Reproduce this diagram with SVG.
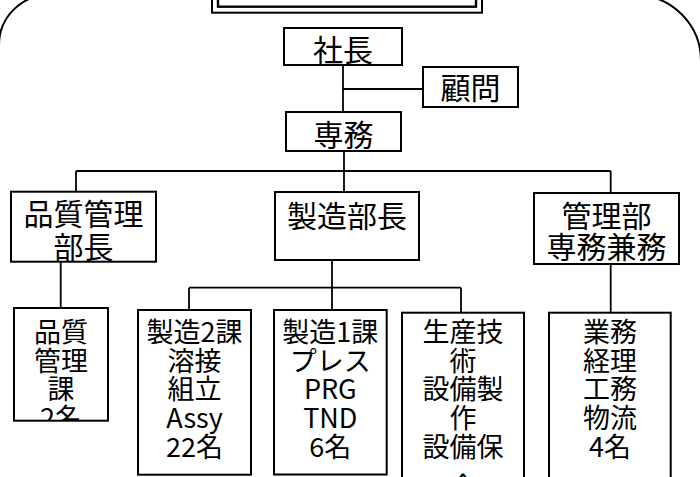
<svg xmlns="http://www.w3.org/2000/svg" width="700" height="477" viewBox="0 0 700 477">
<style>
.box{fill:#fff;stroke:#000;stroke-width:2}
.ln{fill:none;stroke:#000;stroke-width:1.8}
.frame{fill:none;stroke:#000;stroke-width:2}
.t{font-family:"Noto Sans CJK JP","Noto Sans",sans-serif;font-size:30px;fill:#000;text-anchor:middle}
.s{font-family:"Noto Sans CJK JP","Noto Sans",sans-serif;font-size:27px;fill:#000;text-anchor:middle}
</style>
<defs>
<clipPath id="clipQ"><rect x="14" y="308" width="94" height="112.7"/></clipPath>
</defs>
<rect width="700" height="477" fill="#fff"/>
<path class="frame" d="M -1,800 L -1,45 A 50 50 0 0 1 49,-5 L 635,-5 A 66 66 0 0 1 701,61 L 701,800"/>
<g id="title-frame">
<rect x="212" y="-20" width="270" height="32.7" fill="none" stroke="#000" stroke-width="2"/>
<rect x="218" y="-20" width="258" height="26.7" fill="none" stroke="#000" stroke-width="2.4"/>
</g>
<g id="connectors">
<line class="ln" x1="343" y1="65" x2="343" y2="112"/>
<line class="ln" x1="343" y1="89" x2="423" y2="89"/>
<line class="ln" x1="344" y1="151" x2="344" y2="192"/>
<line class="ln" x1="76" y1="171" x2="610.7" y2="171"/>
<line class="ln" x1="76" y1="171" x2="76" y2="191.7"/>
<line class="ln" x1="610.7" y1="171" x2="610.7" y2="193"/>
<line class="ln" x1="60.7" y1="261.7" x2="60.7" y2="308"/>
<line class="ln" x1="332" y1="260" x2="332" y2="310"/>
<line class="ln" x1="189" y1="287.7" x2="461" y2="287.7"/>
<line class="ln" x1="189" y1="287.7" x2="189" y2="310"/>
<line class="ln" x1="461" y1="287.7" x2="461" y2="312.7"/>
<line class="ln" x1="610.7" y1="264" x2="610.7" y2="312.7"/>
</g>
<g id="shacho">
<rect class="box" x="284" y="28" width="118" height="37"/>
<text class="t" x="343" y="61">社長</text>
</g>
<g id="komon">
<rect class="box" x="423" y="67" width="95" height="40"/>
<text class="t" x="470.5" y="99">顧問</text>
</g>
<g id="senmu">
<rect class="box" x="286" y="112" width="115" height="39"/>
<text class="t" x="343.5" y="146">専務</text>
</g>
<g id="hinshitsu-bucho">
<rect class="box" x="11" y="191.7" width="145" height="70"/>
<text class="t" x="83.5" y="224.5">品質管理<tspan x="83.5" dy="33.5">部長</tspan></text>
</g>
<g id="seizo-bucho">
<rect class="box" x="275" y="192" width="144" height="68"/>
<text class="t" x="347" y="226.5">製造部長</text>
</g>
<g id="kanri-bu">
<rect class="box" x="534" y="193" width="145" height="71"/>
<text class="t" x="606.5" y="226.5">管理部<tspan x="606.5" dy="31.5">専務兼務</tspan></text>
</g>
<g id="hinshitsu-ka">
<rect class="box" x="14" y="308" width="94" height="112.7"/>
<text class="s" x="61" y="342" clip-path="url(#clipQ)">品質<tspan x="61" dy="28.5">管理</tspan><tspan x="61" dy="28">課</tspan><tspan x="61" dy="29">2名</tspan></text>
</g>
<g id="seizo2">
<rect class="box" x="138" y="310" width="113" height="164.7"/>
<text class="s" x="194.5" y="342">製造2課<tspan x="194.5" dy="28.5">溶接</tspan><tspan x="194.5" dy="28">組立</tspan><tspan x="194.5" dy="29.5">Assy</tspan><tspan x="194.5" dy="29">22名</tspan></text>
</g>
<g id="seizo1">
<rect class="box" x="274" y="310" width="112.7" height="164.5"/>
<text class="s" x="330.3" y="342">製造1課<tspan x="330.3" dy="28.5">プレス</tspan><tspan x="330.3" dy="28">PRG</tspan><tspan x="330.3" dy="29.5">TND</tspan><tspan x="330.3" dy="29">6名</tspan></text>
</g>
<g id="seisan-gijutsu">
<rect class="box" x="402" y="312.7" width="122" height="200"/>
<text class="s" x="463" y="342">生産技<tspan x="463" dy="28.5">術</tspan><tspan x="463" dy="28">設備製</tspan><tspan x="463" dy="29.5">作</tspan><tspan x="463" dy="29">設備保</tspan><tspan x="463" dy="40">全</tspan></text>
</g>
<g id="gyomu">
<rect class="box" x="549" y="312.7" width="121.7" height="200"/>
<text class="s" x="610" y="342">業務<tspan x="610" dy="28.5">経理</tspan><tspan x="610" dy="28">工務</tspan><tspan x="610" dy="29.5">物流</tspan><tspan x="610" dy="29">4名</tspan></text>
</g>
</svg>
